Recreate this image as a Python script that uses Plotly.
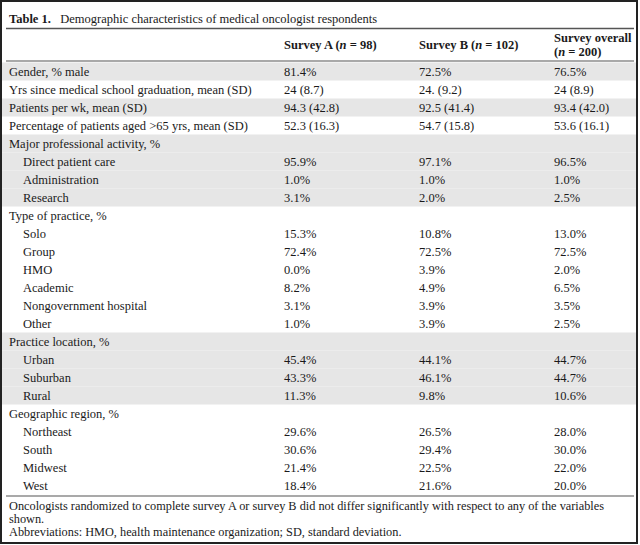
import plotly.graph_objects as go

# ---------------- data ----------------
row_labels = [
    "Gender, % male",
    "Yrs since medical school graduation, mean (SD)",
    "Patients per wk, mean (SD)",
    "Percentage of patients aged >65 yrs, mean (SD)",
    "Major professional activity, %",
    "Direct patient care",
    "Administration",
    "Research",
    "Type of practice, %",
    "Solo",
    "Group",
    "HMO",
    "Academic",
    "Nongovernment hospital",
    "Other",
    "Practice location, %",
    "Urban",
    "Suburban",
    "Rural",
    "Geographic region, %",
    "Northeast",
    "South",
    "Midwest",
    "West",
]
row_indent = [0, 0, 0, 0, 0, 1, 1, 1, 0, 1, 1, 1, 1, 1, 1, 0, 1, 1, 1, 0, 1, 1, 1, 1]
row_shaded = [1, 0, 1, 0, 1, 1, 1, 1, 0, 0, 0, 0, 0, 0, 0, 1, 1, 1, 1, 0, 0, 0, 0, 0]

survey_a = ["81.4%", "24 (8.7)", "94.3 (42.8)", "52.3 (16.3)", "", "95.9%", "1.0%", "3.1%",
            "", "15.3%", "72.4%", "0.0%", "8.2%", "3.1%", "1.0%",
            "", "45.4%", "43.3%", "11.3%", "", "29.6%", "30.6%", "21.4%", "18.4%"]
survey_b = ["72.5%", "24. (9.2)", "92.5 (41.4)", "54.7 (15.8)", "", "97.1%", "1.0%", "2.0%",
            "", "10.8%", "72.5%", "3.9%", "4.9%", "3.9%", "3.9%",
            "", "44.1%", "46.1%", "9.8%", "", "26.5%", "29.4%", "22.5%", "21.6%"]
survey_all = ["76.5%", "24 (8.9)", "93.4 (42.0)", "53.6 (16.1)", "", "96.5%", "1.0%", "2.5%",
              "", "13.0%", "72.5%", "2.0%", "6.5%", "3.5%", "2.5%",
              "", "44.7%", "44.7%", "10.6%", "", "28.0%", "30.0%", "22.0%", "20.0%"]

title_bold = "Table 1."
title_text = "Demographic characteristics of medical oncologist respondents"
header_a = "Survey A (<i>n</i> = 98)"
header_b = "Survey B (<i>n</i> = 102)"
header_all = ["Survey overall", "(<i>n</i> = 200)"]
footnotes = [
    "Oncologists randomized to complete survey A or survey B did not differ significantly with respect to any of the variables",
    "shown.",
    "Abbreviations: HMO, health maintenance organization; SD, standard deviation.",
]

# ---------------- layout constants ----------------
W, H = 640, 545
FONT = "Liberation Serif, Times New Roman, serif"
FS = 12.5
TXT = "#1a1a1a"
SHADE = "#e6e6e6"
RULE = "#555555"
x_label, x_indent = 7, 21
col_x = [282, 417, 552]
row_top0 = 62.5
row_h = 18.0
title_y = 19
top_rule_y = 28.5
header_rule_y = 61
fn_y0, fn_dy = 506, 13

fig = go.Figure()
fig.add_trace(go.Scatter(x=[0, W], y=[0, H], mode="markers",
                         marker=dict(opacity=0), hoverinfo="skip", showlegend=False))

shapes = []
ann = []

def text(x, y, s, size=FS, bold=False):
    ann.append(dict(x=x, y=y, xref="x", yref="y", text=("<b>%s</b>" % s) if bold else s,
                    showarrow=False, xanchor="left", yanchor="middle",
                    font=dict(family=FONT, size=size, color=TXT)))

# shaded bands, row labels and values
n = len(row_labels)
for i in range(n):
    top = row_top0 + i * row_h
    if row_shaded[i]:
        shapes.append(dict(type="rect", xref="x", yref="y", x0=2, x1=W - 3,
                           y0=top, y1=top + row_h, fillcolor=SHADE, line=dict(width=0),
                           layer="below"))
    cy = top + row_h / 2
    text(x_indent if row_indent[i] else x_label, cy, row_labels[i])
    for cx, col in zip(col_x, (survey_a, survey_b, survey_all)):
        if col[i]:
            text(cx, cy, col[i])

bottom_rule_y = row_top0 + n * row_h + 1.5

# rules
for y, w in ((top_rule_y, 1.6), (header_rule_y, 1.2), (bottom_rule_y, 1.2)):
    shapes.append(dict(type="line", xref="x", yref="y", x0=6, x1=W - 6, y0=y, y1=y,
                       line=dict(color=RULE, width=w)))

# outer frame
shapes.append(dict(type="rect", xref="x", yref="y", x0=1, x1=W - 3, y0=1, y1=H - 2,
                   line=dict(color="#222222", width=2)))

# title
ann.append(dict(x=x_label, y=title_y, xref="x", yref="y",
                text="<b>%s</b>&nbsp;&nbsp;&nbsp;%s" % (title_bold, title_text),
                showarrow=False, xanchor="left", yanchor="middle",
                font=dict(family=FONT, size=FS, color=TXT)))

# headers
text(col_x[0], 45, header_a, size=12.5, bold=True)
text(col_x[1], 45, header_b, size=12.5, bold=True)
text(col_x[2], 37.5, header_all[0], size=12.5, bold=True)
text(col_x[2], 51.5, header_all[1], size=12.5, bold=True)

# footnotes
for k, s in enumerate(footnotes):
    text(x_label, fn_y0 + k * fn_dy, s, size=12.3)

fig.update_layout(
    width=W, height=H, margin=dict(l=0, r=0, t=0, b=0),
    paper_bgcolor="white", plot_bgcolor="white",
    xaxis=dict(range=[0, W], visible=False, fixedrange=True),
    yaxis=dict(range=[H, 0], visible=False, fixedrange=True),
    shapes=shapes, annotations=ann, showlegend=False,
)
fig.write_html("out.html", config={"displayModeBar": False},
               post_script="document.body.style.margin='0';document.body.style.overflow='hidden';")
